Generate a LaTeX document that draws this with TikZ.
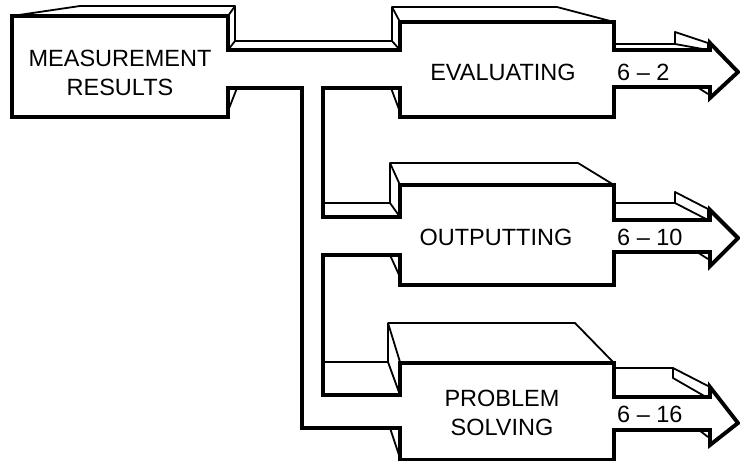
\documentclass[tikz,border=0pt]{standalone}
\usepackage{fontspec}
\setmainfont{Liberation Sans}

\begin{document}
\begin{tikzpicture}[x=1pt, y=-1pt,
  face/.style={line width=3.9pt, line join=miter},
  edge/.style={line width=1.8pt, line join=round},
  title/.style={font=\fontsize{23.5}{29}\selectfont, align=center, inner sep=0pt},
  page/.style={font=\fontsize{23.5}{29}\selectfont, anchor=west, inner sep=0pt}
]
\useasboundingbox (0,0) rectangle (740,461);

% front faces: blocks, channels and output arrows in one outline
\draw[face] (12,117) -- (12,16) -- (228,16) -- (228,50) -- (400,50)
  -- (400,22) -- (614,22) -- (614,50) -- (710,50) -- (710,43)
  -- (738,72) -- (710,98) -- (710,87) -- (614,87) -- (614,117)
  -- (400,117) -- (400,88) -- (323,88) -- (323,217) -- (400,217)
  -- (400,185) -- (614,185) -- (614,220) -- (710,220) -- (710,210)
  -- (738,238) -- (710,266) -- (710,252) -- (614,252) -- (614,285)
  -- (400,285) -- (400,255) -- (323,255) -- (323,395) -- (400,395)
  -- (400,363) -- (614,363) -- (614,397) -- (710,397) -- (710,387)
  -- (738,423) -- (710,445) -- (710,430) -- (614,430) -- (614,460)
  -- (400,460) -- (400,428) -- (302,428) -- (302,88) -- (228,88)
  -- (228,117) -- cycle;

% Measurement results
\draw[edge] (12,16) -- (80,6) -- (235,6) -- (228,16);
\draw[edge] (235,6) -- (235,41) -- (228,50);
\draw[edge] (237,88) -- (228,111);
\node[title] (meas) at (120,73) {MEASUREMENT\\RESULTS};

% Evaluating
\draw[edge] (235,41) -- (392,41) -- (400,50);
\draw[edge] (392,41) -- (392,7) -- (400,22);
\draw[edge] (392,7) -- (557,7) -- (614,22);
\draw[edge] (391,88) -- (400,112);
\draw[edge] (614,44) -- (675,44) -- (675,32) -- (708,43) -- (708,50);
\draw[edge] (675,44) -- (708,50);
\draw[edge] (697,87) -- (708,94);
\node[title] (eval) at (503,72.5) {EVALUATING};
\node[page] (evalpg) at (617,72.5) {6 -- 2};

% Outputting
\draw[edge] (323,203) -- (390,203) -- (400,217);
\draw[edge] (390,203) -- (390,163) -- (400,185);
\draw[edge] (390,163) -- (578,163) -- (614,185);
\draw[edge] (390,255) -- (400,277);
\draw[edge] (614,203) -- (675,203) -- (675,192) -- (708,209) -- (708,220);
\draw[edge] (675,203) -- (708,220);
\draw[edge] (697,252) -- (708,259);
\node[title] (out) at (496,237.5) {OUTPUTTING};
\node[page] (outpg) at (617,237.5) {6 -- 10};

% Problem solving
\draw[edge] (323,362) -- (388,362) -- (400,395);
\draw[edge] (388,362) -- (388,323) -- (400,362);
\draw[edge] (388,323) -- (575,323) -- (614,363);
\draw[edge] (390,428) -- (400,458);
\draw[edge] (614,368) -- (673,368) -- (710,387);
\draw[edge] (673,368) -- (673,378) -- (706,397);
\draw[edge] (699,430) -- (708,437);
\node[title] (ps) at (502,412.5) {PROBLEM\\SOLVING};
\node[page] (pspg) at (617,414) {6 -- 16};

\end{tikzpicture}
\end{document}
